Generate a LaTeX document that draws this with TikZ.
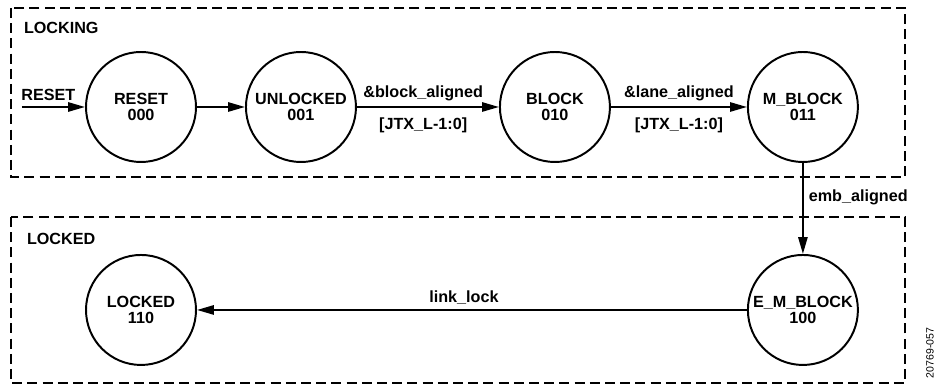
\documentclass[tikz,border=0pt]{standalone}
\usepackage{fontspec}
\setmainfont{Liberation Sans}
\usetikzlibrary{positioning,arrows.meta}
\tikzset{
  st/.style={circle, draw, line width=1.4pt, minimum size=2.75cm, inner sep=0pt,
             align=center, font=\fontsize{11.5}{11.5}\selectfont\bfseries},
  ar/.style={-{Triangle[length=0.42cm,width=0.23cm]}, line width=1.4pt},
  lbl/.style={font=\fontsize{11.5}{13}\selectfont\bfseries, inner sep=3.5pt},
  grp/.style={line width=1.4pt, dash pattern=on 0.25cm off 0.13cm},
  fignum/.style={font=\fontsize{7.5}{8}\selectfont, rotate=90, inner sep=0pt},
}
\newcommand{\jtxlanes}{[JTX\_L-1:0]}

\begin{document}
\begin{tikzpicture}[node distance=1.2cm]
  \useasboundingbox (0,0) rectangle (23.375,-9.625);
  \draw[grp] (0.275,-0.2) rectangle (22.625,-4.425);
  \draw[grp] (0.275,-5.425) rectangle (22.625,-9.575);
  \node[lbl, anchor=west] (tlocking) at (0.47,-0.7) {LOCKING};
  \node[lbl, anchor=west] (tlocked) at (0.545,-5.975) {LOCKED};

  \node[st] (reset) at (3.525,-2.675) {RESET\\000};
  \node[st, right=1.2cm of reset] (unlocked) {UNLOCKED\\001};
  \node[st, right=3.55cm of unlocked] (block) {BLOCK\\010};
  \node[st, right=3.4cm of block] (mblock) {M\_BLOCK\\011};
  \node[st, below=2.275cm of mblock] (emblock) {E\_M\_BLOCK\\100};
  \node[st] (locked) at (reset |- emblock) {LOCKED\\110};
  \coordinate[left=1.58cm of reset.west] (rstin);

  \draw[ar] (rstin) -- node[lbl, above, pos=0.42] {RESET} (reset);
  \draw[ar] (reset) -- (unlocked);
  \draw[ar] (unlocked) -- node[lbl, above, xshift=-0.12cm] {\&block\_aligned}
                          node[lbl, below=0.12cm, xshift=-0.12cm] {\jtxlanes} (block);
  \draw[ar] (block) -- node[lbl, above] {\&lane\_aligned}
                       node[lbl, below=0.12cm] {\jtxlanes} (mblock);
  \draw[ar] (mblock) -- node[lbl, right, pos=0.38] {emb\_aligned} (emblock);
  \draw[ar] (emblock) -- node[lbl, above, xshift=-0.2cm] {link\_lock} (locked);

  \node[fignum] (figno) at (23.25,-8.825) {20769-057};
\end{tikzpicture}
\end{document}
